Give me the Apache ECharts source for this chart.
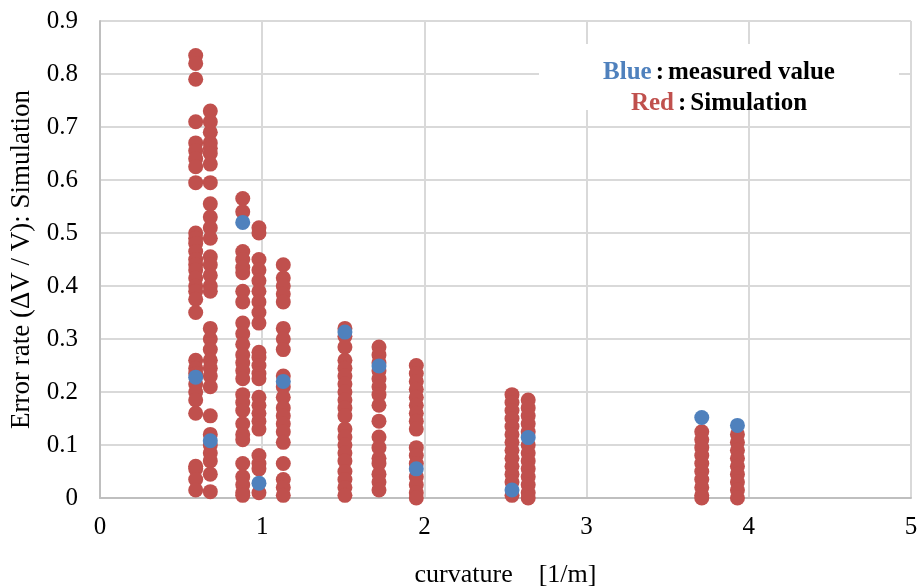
<!DOCTYPE html>
<html>
<head>
<meta charset="utf-8">
<script src="https://cdn.jsdelivr.net/npm/echarts@6/dist/echarts.min.js"></script>
<style>
  html, body { margin: 0; padding: 0; background: #fff; }
  #chart { width: 923px; height: 587px; }
</style>
</head>
<body>
<div id="chart"></div>
<script>
// curvature of each simulation column [1/m]
var simCurvature = [0.59, 0.68, 0.88, 0.98, 1.13, 1.51, 1.72, 1.95, 2.54, 2.64, 3.71, 3.93];

// simulated error rate, one list per column
var simA = [0.835, 0.82, 0.79, 0.71, 0.67, 0.655, 0.64, 0.625, 0.595, 0.50, 0.49, 0.48, 0.465, 0.45, 0.44, 0.43, 0.415, 0.40, 0.39, 0.375, 0.35, 0.26, 0.245, 0.235, 0.215, 0.20, 0.185, 0.16, 0.06, 0.055, 0.035, 0.015];
var simB = [0.73, 0.71, 0.69, 0.67, 0.66, 0.65, 0.63, 0.595, 0.555, 0.53, 0.51, 0.49, 0.455, 0.44, 0.42, 0.40, 0.39, 0.32, 0.30, 0.28, 0.26, 0.245, 0.23, 0.21, 0.155, 0.12, 0.10, 0.085, 0.07, 0.045, 0.012];
var simC = [0.565, 0.54, 0.465, 0.45, 0.435, 0.425, 0.39, 0.37, 0.33, 0.31, 0.29, 0.27, 0.255, 0.24, 0.225, 0.195, 0.18, 0.165, 0.14, 0.12, 0.11, 0.065, 0.04, 0.025, 0.01, 0.005];
var simD = [0.51, 0.50, 0.45, 0.43, 0.41, 0.39, 0.37, 0.35, 0.33, 0.275, 0.265, 0.25, 0.235, 0.225, 0.19, 0.175, 0.16, 0.145, 0.13, 0.08, 0.065, 0.055, 0.01];
var simE = [0.44, 0.415, 0.40, 0.385, 0.37, 0.32, 0.30, 0.28, 0.23, 0.21, 0.19, 0.17, 0.155, 0.14, 0.125, 0.105, 0.065, 0.035, 0.02, 0.005];
var simF = [0.32, 0.305, 0.285, 0.26, 0.245, 0.23, 0.215, 0.20, 0.185, 0.17, 0.155, 0.13, 0.115, 0.10, 0.085, 0.07, 0.05, 0.035, 0.02, 0.005];
var simG = [0.285, 0.27, 0.255, 0.24, 0.225, 0.21, 0.195, 0.175, 0.145, 0.115, 0.095, 0.075, 0.065, 0.045, 0.03, 0.015];
var simH = [0.25, 0.235, 0.22, 0.205, 0.19, 0.175, 0.16, 0.145, 0.13, 0.095, 0.08, 0.065, 0.04, 0.025, 0.01, 0.0];
var simI = [0.195, 0.18, 0.165, 0.15, 0.135, 0.12, 0.105, 0.09, 0.075, 0.06, 0.045, 0.03, 0.005];
var simJ = [0.185, 0.17, 0.155, 0.14, 0.125, 0.10, 0.085, 0.07, 0.055, 0.04, 0.025, 0.01, 0.0];
var simK = [0.125, 0.11, 0.095, 0.08, 0.065, 0.05, 0.035, 0.02, 0.005, 0.0];
var simL = [0.12, 0.105, 0.09, 0.075, 0.06, 0.045, 0.03, 0.015, 0.0];
var simColumns = [simA, simB, simC, simD, simE, simF, simG, simH, simI, simJ, simK, simL];

// measured values
var measCurvature = [0.59, 0.68, 0.88, 0.98, 1.13, 1.51, 1.72, 1.95, 2.54, 2.64, 3.71, 3.93];
var measError = [0.228, 0.108, 0.52, 0.028, 0.22, 0.313, 0.249, 0.055, 0.015, 0.114, 0.152, 0.137];

var xTicks = [0, 1, 2, 3, 4, 5];
var yTicks = [0, 0.1, 0.2, 0.3, 0.4, 0.5, 0.6, 0.7, 0.8, 0.9];

var simData = [];
simColumns.forEach(function (col, i) {
    col.forEach(function (v) { simData.push([simCurvature[i], v]); });
});
var measData = measCurvature.map(function (c, i) { return [c, measError[i]]; });

var font = '"Liberation Serif", "Times New Roman", serif';
var myChart = echarts.init(document.getElementById('chart'));

var option = {
    backgroundColor: '#fff',
    animation: false,
    grid: { left: 100, right: 12, top: 21, bottom: 89, containLabel: false, outerBoundsMode: 'none' },
    xAxis: {
        type: 'value',
        min: xTicks[0], max: xTicks[xTicks.length - 1], interval: 1,
        name: 'curvature    [1/m]',
        nameLocation: 'middle',
        nameGap: 64,
        nameTextStyle: { fontFamily: font, fontSize: 26, color: '#000' },
        axisLine: { show: true, lineStyle: { color: '#bfbfbf', width: 2 } },
        axisTick: { show: false },
        axisLabel: { fontFamily: font, fontSize: 25, color: '#000', margin: 17 },
        splitLine: { show: true, lineStyle: { color: '#d9d9d9', width: 2 } }
    },
    yAxis: {
        type: 'value',
        min: yTicks[0], max: yTicks[yTicks.length - 1], interval: 0.1,
        name: 'Error rate (ΔV / V): Simulation',
        nameLocation: 'middle',
        nameGap: 63,
        nameTextStyle: { fontFamily: font, fontSize: 27, color: '#000' },
        axisLine: { show: true, lineStyle: { color: '#bfbfbf', width: 2 } },
        axisTick: { show: false },
        axisLabel: {
            fontFamily: font, fontSize: 25, color: '#000', margin: 22,
            formatter: function (v) { return String(Math.round(v * 10) / 10); }
        },
        splitLine: { show: true, lineStyle: { color: '#d9d9d9', width: 2 } }
    },
    graphic: [
        {
            type: 'rect', z: 100,
            shape: { x: 539, y: 44, width: 360, height: 66 },
            style: { fill: '#fff' }
        },
        {
            type: 'text', z: 101, x: 719, y: 73,
            style: {
                text: '{b|Blue}{c|:}{k|measured value}',
                align: 'center', verticalAlign: 'middle',
                rich: {
                    b: { fontFamily: font, fontSize: 25, fontWeight: 'bold', fill: '#4f81bd', color: '#4f81bd' },
                    c: { fontFamily: font, fontSize: 25, fontWeight: 'bold', fill: '#000', color: '#000', padding: [0, 4, 0, 4] },
                    k: { fontFamily: font, fontSize: 25, fontWeight: 'bold', fill: '#000', color: '#000' }
                }
            }
        },
        {
            type: 'text', z: 101, x: 719, y: 104,
            style: {
                text: '{r|Red}{c|:}{k|Simulation}',
                align: 'center', verticalAlign: 'middle',
                rich: {
                    r: { fontFamily: font, fontSize: 25, fontWeight: 'bold', fill: '#c0504d', color: '#c0504d' },
                    c: { fontFamily: font, fontSize: 25, fontWeight: 'bold', fill: '#000', color: '#000', padding: [0, 4, 0, 4] },
                    k: { fontFamily: font, fontSize: 25, fontWeight: 'bold', fill: '#000', color: '#000' }
                }
            }
        }
    ],
    series: [
        {
            name: 'Simulation',
            type: 'scatter',
            symbolSize: 15,
            itemStyle: { color: '#c0504d', opacity: 1 },
            data: simData,
            z: 2
        },
        {
            name: 'measured value',
            type: 'scatter',
            symbolSize: 15,
            itemStyle: { color: '#4f81bd', opacity: 1 },
            data: measData,
            z: 3
        }
    ]
};

option && myChart.setOption(option);
</script>
</body>
</html>
